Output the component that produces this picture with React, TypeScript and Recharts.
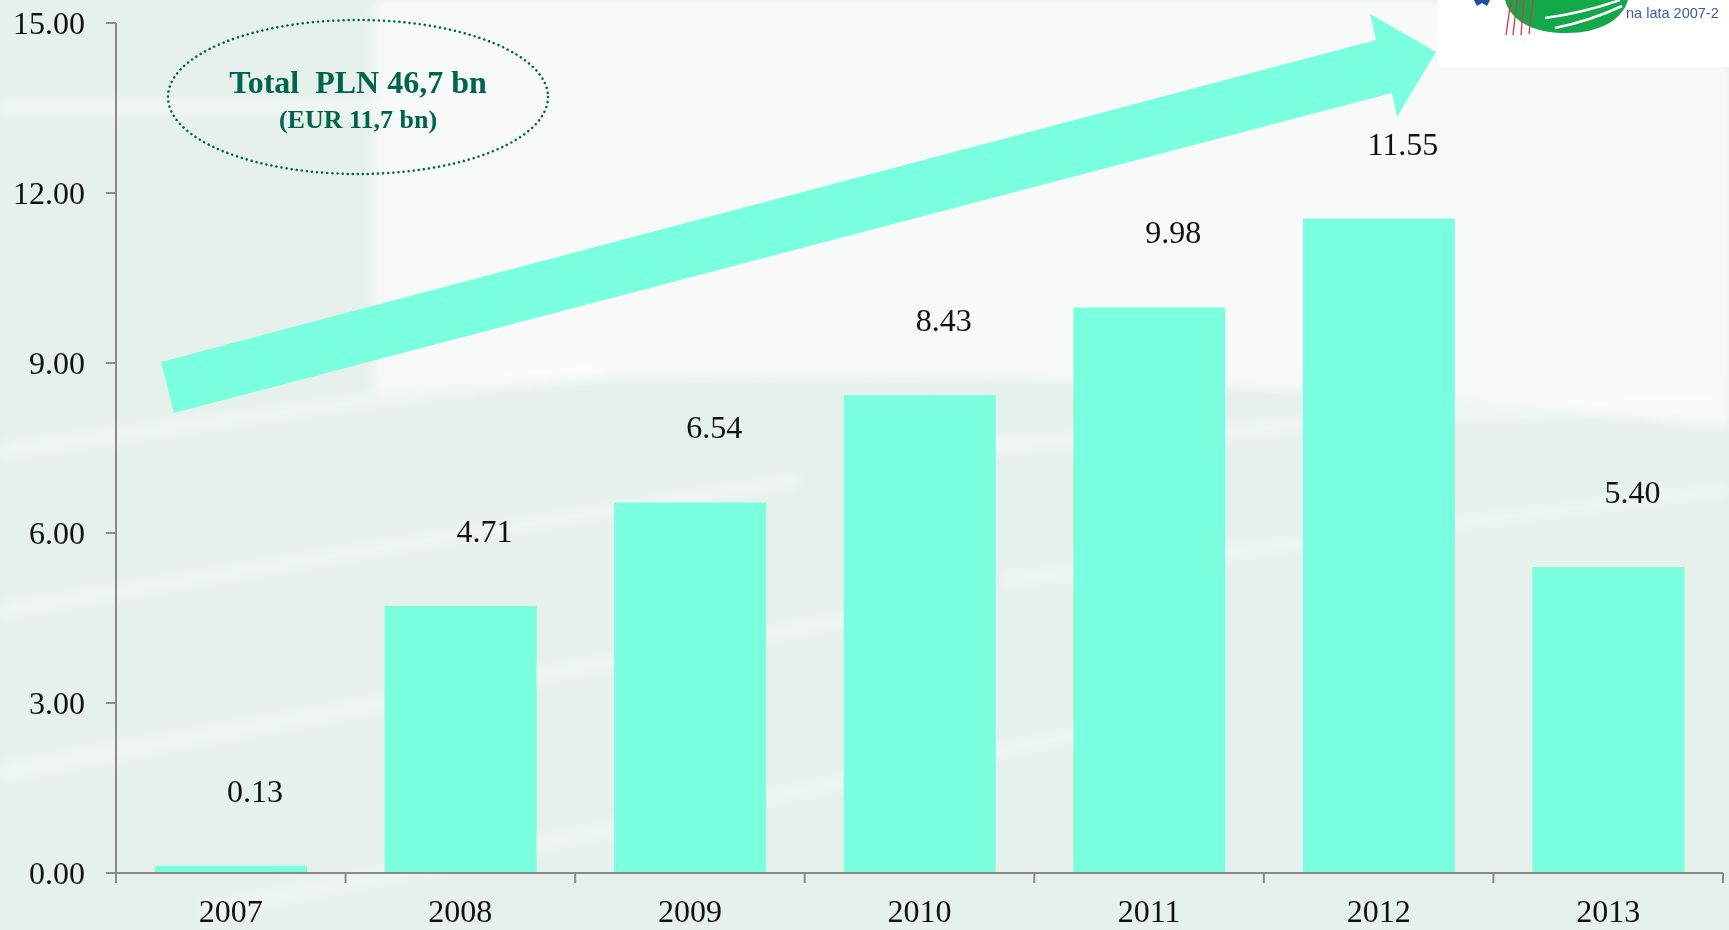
import React from "react";
import { BarChart, Bar, XAxis, YAxis, LabelList } from "recharts";

const years = ["2007", "2008", "2009", "2010", "2011", "2012", "2013"];
const amounts = [0.13, 4.71, 6.54, 8.43, 9.98, 11.55, 5.4];
const yTicks = [0, 3, 6, 9, 12, 15];
const totalLine1 = "Total  PLN 46,7 bn";
const totalLine2 = "(EUR 11,7 bn)";
const logoText = "na lata 2007-2";

const data = years.map((y, i) => ({ year: y, value: amounts[i] }));

const W = 1729;
const H = 930;
const LEFT = 116;
const RIGHT_MARGIN = 6;
const BAND = (W - LEFT - RIGHT_MARGIN) / years.length;
const FONT = '"Liberation Serif", "Times New Roman", serif';
const BAR_COLOR = "#7affdf";
const AXIS_COLOR = "#8a8a8a";
const GREEN = "#00654a";

const XTick = (props: any) => {
  const { x, y, payload, index } = props;
  const left = x - BAND / 2;
  const right = x + BAND / 2;
  return (
    <g>
      <line x1={left} y1={y} x2={left} y2={y + 10} stroke={AXIS_COLOR} strokeWidth={2} />
      {index === years.length - 1 && (
        <line x1={right} y1={y} x2={right} y2={y + 10} stroke={AXIS_COLOR} strokeWidth={2} />
      )}
      <text x={x} y={y + 49} textAnchor="middle" fontFamily={FONT} fontSize={32} fill="#111">
        {payload.value}
      </text>
    </g>
  );
};

const ValueLabel = (props: any) => {
  const { x, y, width, value } = props;
  return (
    <text
      x={x + width / 2 + 24}
      y={y - 64}
      textAnchor="middle"
      fontFamily={FONT}
      fontSize={32}
      fill="#111"
    >
      {Number(value).toFixed(2)}
    </text>
  );
};

const Background = () => (
  <svg width={W} height={H} style={{ position: "absolute", left: 0, top: 0 }}>
    <defs>
      <filter id="soft" x="-10%" y="-10%" width="120%" height="120%">
        <feGaussianBlur stdDeviation="6" />
      </filter>
    </defs>
    <rect x={0} y={0} width={W} height={H} fill="#e6f0ec" />
    <g filter="url(#soft)">
      <path d="M375,0 L1729,0 L1729,430 C1400,385 800,360 375,392 Z" fill="#f8f9f9" />
      <rect x={0} y={100} width={375} height={14} fill="#f8fbfa" opacity={0.7} />
      <polygon points="0,440 600,360 600,378 0,462" fill="#ffffff" opacity={0.35} />
      <polygon points="0,600 800,470 800,488 0,622" fill="#ffffff" opacity={0.35} />
      <polygon points="0,760 900,600 900,620 0,785" fill="#ffffff" opacity={0.35} />
      <polygon points="200,900 1100,720 1100,740 200,925" fill="#ffffff" opacity={0.3} />
      <polygon points="900,440 1729,390 1729,408 900,462" fill="#ffffff" opacity={0.35} />
      <polygon points="1000,570 1729,480 1729,498 1000,592" fill="#ffffff" opacity={0.3} />
    </g>
  </svg>
);

const Overlay = () => (
  <svg width={W} height={H} style={{ position: "absolute", left: 0, top: 0, pointerEvents: "none" }}>
    <polygon
      points="161,362 1376,40 1370,14 1436,52 1397,117 1392,93 174,413"
      fill={BAR_COLOR}
    />
    <ellipse
      cx={358}
      cy={97}
      rx={190}
      ry={77}
      fill="none"
      stroke={GREEN}
      strokeWidth={2.5}
      strokeDasharray="0.1 5"
      strokeLinecap="round"
    />
    <text
      x={358}
      y={93}
      textAnchor="middle"
      fontFamily={FONT}
      fontWeight="bold"
      fontSize={32}
      fill={GREEN}
      style={{ whiteSpace: "pre" }}
    >
      {totalLine1}
    </text>
    <text x={358} y={128} textAnchor="middle" fontFamily={FONT} fontWeight="bold" fontSize={26} fill={GREEN}>
      {totalLine2}
    </text>
    <rect x={1438} y={0} width={291} height={67} fill="#ffffff" />
    <path d="M1505,0 L1628,0 C1622,20 1600,33 1566,33 C1532,33 1510,20 1505,0 Z" fill="#13a84a" />
    <path d="M1545,18 C1575,14 1600,7 1620,0" stroke="#ffffff" strokeWidth={2.5} fill="none" />
    <path d="M1555,28 C1585,22 1605,14 1622,6" stroke="#ffffff" strokeWidth={2.5} fill="none" />
    <line x1={1511} y1={0} x2={1506} y2={35} stroke="#d9363e" strokeWidth={1.3} />
    <line x1={1517} y1={0} x2={1513} y2={35} stroke="#d9363e" strokeWidth={1.3} />
    <line x1={1524} y1={0} x2={1521} y2={35} stroke="#d9363e" strokeWidth={1.3} />
    <line x1={1533} y1={0} x2={1529} y2={34} stroke="#d9363e" strokeWidth={1.3} />
    <polygon points="1474,0 1490,0 1487,6 1482,3 1477,6" fill="#1f4ea0" />
    <text x={1626} y={18} fontFamily='"Liberation Sans", Arial, sans-serif' fontSize={14.5} fill="#3a5ca8">
      {logoText}
    </text>
  </svg>
);

export default function App() {
  return (
    <div style={{ position: "absolute", left: 0, top: 0, width: W, height: H, overflow: "hidden" }}>
      <Background />
      <div style={{ position: "absolute", left: 0, top: 0 }}>
        <BarChart
          width={W}
          height={H}
          data={data}
          margin={{ top: 23, right: RIGHT_MARGIN, bottom: 7, left: 0 }}
          barCategoryGap="17%"
        >
          <XAxis
            dataKey="year"
            height={50}
            tickSize={0}
            tickMargin={0}
            tickLine={false}
            axisLine={{ stroke: AXIS_COLOR, strokeWidth: 2 }}
            tick={<XTick />}
            interval={0}
          />
          <YAxis
            width={LEFT}
            domain={[0, 15]}
            ticks={yTicks}
            interval={0}
            tickSize={10}
            tickMargin={21}
            tickFormatter={(v: number) => v.toFixed(2)}
            tick={{ fontFamily: FONT, fontSize: 32, fill: "#111" }}
            tickLine={{ stroke: AXIS_COLOR, strokeWidth: 2 }}
            axisLine={{ stroke: AXIS_COLOR, strokeWidth: 2 }}
          />
          <Bar dataKey="value" fill={BAR_COLOR} isAnimationActive={false}>
            <LabelList dataKey="value" content={<ValueLabel />} />
          </Bar>
        </BarChart>
      </div>
      <Overlay />
    </div>
  );
}
